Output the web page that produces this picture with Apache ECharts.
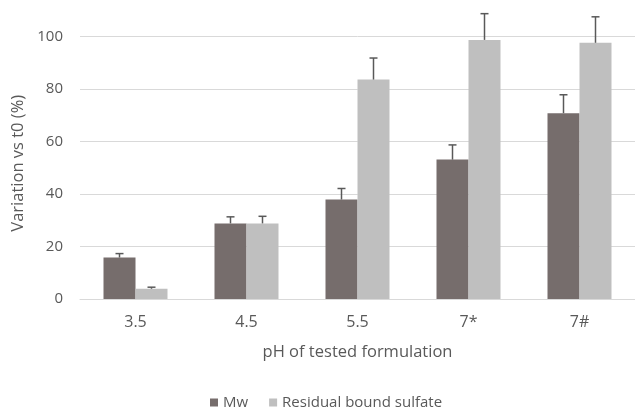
<!DOCTYPE html>
<html>
<head>
<meta charset="utf-8">
<script src="https://cdn.jsdelivr.net/npm/echarts@6/dist/echarts.min.js"></script>
<style>html,body{margin:0;padding:0;background:#fff}#c{width:635px;height:412px}</style>
</head>
<body>
<div id="c"></div>
<script>
const categories = ['3.5', '4.5', '5.5', '7*', '7#'];
const mwValues = [15.8, 28.8, 37.9, 53.1, 70.8];
const mwErrors = [1.5, 2.5, 4.2, 5.6, 7.0];
const rbsValues = [3.9, 28.8, 83.6, 98.7, 97.6];
const rbsErrors = [0.6, 2.7, 8.2, 10.0, 9.9];
const seriesNames = ['Mw', 'Residual bound sulfate'];
const yTicks = [0, 20, 40, 60, 80, 100];

const FONT = '"Open Sans", sans-serif';
const TXT = '#595959';
const BAR_W = 32;
const COLORS = ['#766d6c', '#bfbfbf'];

function errSeries(vals, errs, offset) {
  return {
    type: 'custom',
    silent: true,
    z: 5,
    data: vals.map((v, i) => [i, v, v + errs[i]]),
    renderItem: function (params, api) {
      const base = api.coord([api.value(0), api.value(1)]);
      const top = api.coord([api.value(0), api.value(2)]);
      const x = base[0] + offset;
      const style = { stroke: '#595959', lineWidth: 1.5 };
      return {
        type: 'group',
        children: [
          { type: 'line', shape: { x1: x, y1: base[1], x2: x, y2: top[1] }, style: style },
          { type: 'line', shape: { x1: x - 4, y1: top[1], x2: x + 4, y2: top[1] }, style: style }
        ]
      };
    }
  };
}

const chart = echarts.init(document.getElementById('c'), null, { renderer: 'canvas' });
chart.setOption({
  animation: false,
  textStyle: { fontFamily: FONT },
  grid: { left: 80, top: 36.5, width: 563, bottom: 113, containLabel: false },
  legend: {
    data: seriesNames,
    top: 395,
    left: 210,
    padding: 0,
    itemWidth: 8,
    itemHeight: 8,
    itemGap: 21,
    icon: 'rect',
    textStyle: { color: TXT, fontSize: 15, fontFamily: FONT, padding: [0, 0, 0, 0] }
  },
  xAxis: {
    type: 'category',
    data: categories,
    name: 'pH of tested formulation',
    nameLocation: 'middle',
    nameGap: 45,
    nameTextStyle: { color: TXT, fontSize: 16.5, fontFamily: FONT },
    axisLine: { lineStyle: { color: '#d9d9d9', width: 1 } },
    axisTick: { show: false },
    axisLabel: { color: TXT, fontSize: 16, margin: 15, fontFamily: FONT }
  },
  yAxis: {
    type: 'value',
    min: yTicks[0],
    max: yTicks[yTicks.length - 1],
    interval: yTicks[1] - yTicks[0],
    name: 'Variation vs t0 (%)',
    nameLocation: 'middle',
    nameGap: 43,
    nameTextStyle: { color: TXT, fontSize: 16.5, fontFamily: FONT, padding: [0, 0, 0, 9] },
    axisLine: { show: false },
    axisTick: { show: false },
    axisLabel: { color: TXT, fontSize: 15, margin: 17, fontFamily: FONT },
    splitLine: { lineStyle: { color: '#d9d9d9', width: 1 } }
  },
  series: [
    { name: seriesNames[0], type: 'bar', data: mwValues, barWidth: BAR_W, barGap: '0%', itemStyle: { color: COLORS[0] } },
    { name: seriesNames[1], type: 'bar', data: rbsValues, barWidth: BAR_W, barGap: '0%', itemStyle: { color: COLORS[1] } },
    errSeries(mwValues, mwErrors, -BAR_W / 2),
    errSeries(rbsValues, rbsErrors, BAR_W / 2)
  ]
});
</script>
</body>
</html>
